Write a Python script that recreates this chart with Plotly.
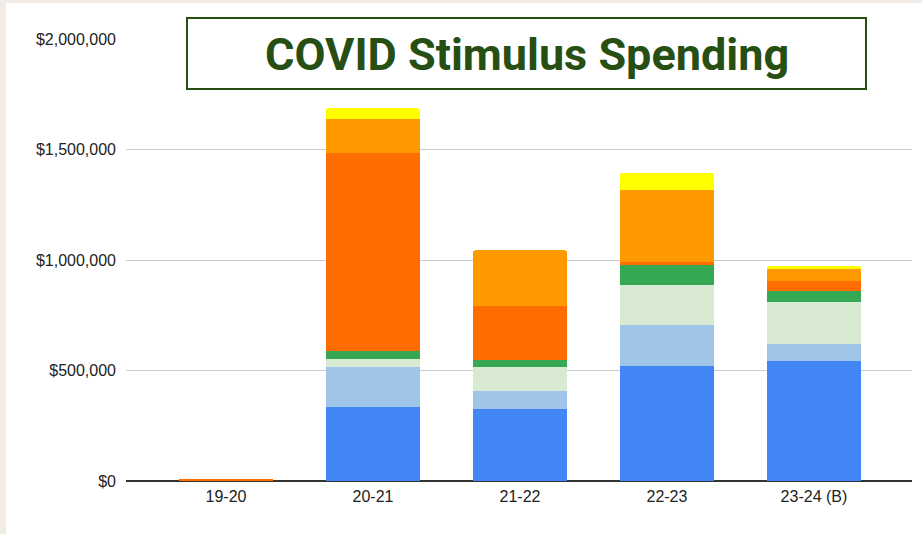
import plotly.graph_objects as go

years = ["19-20", "20-21", "21-22", "22-23", "23-24 (B)"]

series_names = ["Fund A", "Fund B", "Fund C", "Fund D", "Fund E", "Fund F", "Fund G"]
fund_a = [0, 333000, 327000, 520000, 542000]
fund_b = [0, 183000, 79000, 186000, 79000]
fund_c = [0, 37000, 108000, 181000, 188000]
fund_d = [0, 34000, 35000, 89000, 51000]
fund_e = [8000, 896000, 243000, 15000, 46000]
fund_f = [0, 154000, 252000, 326000, 53000]
fund_g = [0, 49000, 0, 78000, 16000]

colors = ["#4285f4", "#9fc5e8", "#d9ead3", "#34a853", "#ff6d01", "#ff9900", "#ffff00"]
all_series = [fund_a, fund_b, fund_c, fund_d, fund_e, fund_f, fund_g]

y_ticks = [0, 500000, 1000000, 1500000, 2000000]
y_tick_labels = ["$0", "$500,000", "$1,000,000", "$1,500,000", "$2,000,000"]

W, H = 922, 534
ML, MR, MT, MB = 126, 10, 39, 53
PW, PH = W - ML - MR, H - MT - MB

def px_x(p):
    return (p - ML) / PW

def px_y(p):
    return (H - MB - p) / PH

fig = go.Figure()
for name, vals, col in zip(series_names, all_series, colors):
    fig.add_trace(go.Bar(
        x=list(range(len(years))), y=vals, name=name,
        marker=dict(color=col, line=dict(width=0)),
        width=0.64,
        hovertemplate="%{y:$,.0f}<extra>" + name + "</extra>",
    ))

fig.update_layout(
    barmode="stack",
    barcornerradius=3,
    width=W, height=H,
    margin=dict(l=ML, r=MR, t=MT, b=MB),
    paper_bgcolor="#f1ede6",
    plot_bgcolor="rgba(0,0,0,0)",
    showlegend=False,
    font=dict(family="Liberation Sans, Arial, sans-serif", size=16, color="#222222"),
    xaxis=dict(
        tickmode="array", tickvals=list(range(len(years))), ticktext=years,
        range=[-0.68, 4.667], showgrid=False, zeroline=False,
        showline=False, ticks="", ticklabelstandoff=4, fixedrange=True,
    ),
    yaxis=dict(
        tickmode="array", tickvals=y_ticks, ticktext=y_tick_labels,
        range=[0, 2000000], showgrid=True, gridcolor="#cccccc", gridwidth=1,
        zeroline=True, zerolinecolor="#333333", zerolinewidth=1.5,
        showline=False, ticks="", ticklabelstandoff=9, fixedrange=True,
    ),
    shapes=[
        dict(type="rect", xref="paper", yref="paper", layer="below",
             x0=px_x(6), x1=px_x(W + 5), y0=px_y(H + 5), y1=px_y(3),
             fillcolor="#ffffff", line=dict(width=0)),
        dict(type="rect", xref="paper", yref="paper", layer="above",
             x0=px_x(187), x1=px_x(866), y0=px_y(89), y1=px_y(18),
             fillcolor="#ffffff", line=dict(color="#274e13", width=2)),
    ],
    annotations=[
        dict(text="<b>COVID Stimulus Spending</b>", xref="paper", yref="paper",
             x=px_x(527), y=px_y(55), xanchor="center", yanchor="middle",
             showarrow=False,
             font=dict(family="Roboto, Inter, sans-serif", size=45, color="#274e13")),
    ],
)

fig.write_html("out.html", config={"displayModeBar": False},
               post_script="document.body.style.margin='0';")
